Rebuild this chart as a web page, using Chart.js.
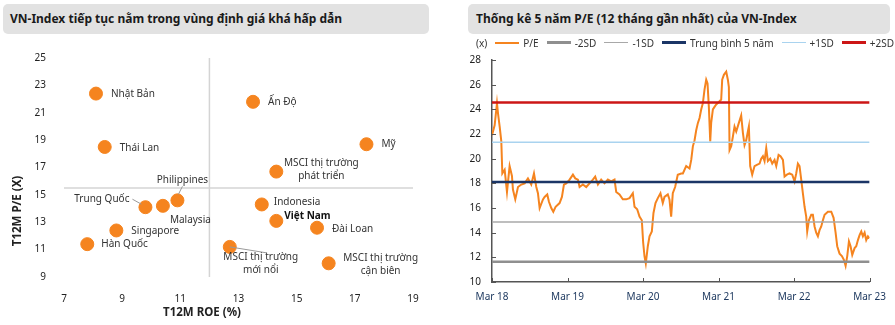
<!DOCTYPE html>
<html>
<head>
<meta charset="utf-8">
<script src="https://cdn.jsdelivr.net/npm/chart.js@4.4.1/dist/chart.umd.min.js"></script>
<style>
body { margin: 0; background: #fff; font-family: "Noto Sans", sans-serif; }
#wrap { position: relative; width: 895px; height: 325px; overflow: hidden; }
.title { position: absolute; top: 4px; height: 30px; line-height: 30px; background: #e2e2e2; border-radius: 5px;
         font-weight: bold; font-size: 12px; color: #1a1a1a; box-sizing: border-box; padding-left: 7px; white-space: nowrap; }
#t1 { left: 3px; width: 426px; }
#t2 { left: 468px; width: 422px; padding-left: 8px; }
canvas { position: absolute; top: 0; }
#c1 { left: 0; }
#c2 { left: 445px; }
#legend { position: absolute; left: 476px; top: 35px; height: 15px; display: flex; align-items: center;
          font-size: 10px; color: #333; white-space: nowrap; }
#legend .item { display: flex; align-items: center; margin-left: 8px; }
#legend .sw { width: 24px; margin-right: 4px; }
</style>
</head>
<body>
<div id="wrap">
  <div class="title" id="t1">VN-Index tiếp tục nằm trong vùng định giá khá hấp dẫn</div>
  <div class="title" id="t2">Thống kê 5 năm P/E (12 tháng gần nhất) của VN-Index</div>
  <canvas id="c1" width="440" height="325"></canvas>
  <canvas id="c2" width="450" height="325"></canvas>
  <div id="legend"><span>(x)</span></div>
</div>
<script>
// ---- số liệu biểu đồ trái (ROE vs P/E) ----
const countries = ['Nhật Bản', 'Thái Lan', 'Ấn Độ', 'Mỹ', 'MSCI thị trường phát triển', 'Trung Quốc', 'Malaysia',
                   'Philippines', 'Singapore', 'Hàn Quốc', 'Indonesia', 'Việt Nam', 'Đài Loan',
                   'MSCI thị trường mới nổi', 'MSCI thị trường cận biên'];
const roe = [8.1, 8.4, 13.5, 17.4, 14.3, 9.8, 10.4, 10.9, 8.8, 7.8, 13.8, 14.3, 15.7, 12.7, 16.1];
const pe  = [22.4, 18.5, 21.8, 18.7, 16.7, 14.1, 14.2, 14.6, 12.4, 11.4, 14.3, 13.1, 12.6, 11.2, 10.0];
const roeTicks = [7, 9, 11, 13, 15, 17, 19];
const peTicks = [9, 11, 13, 15, 17, 19, 21, 23, 25];
const roeSplit = 12;
const peSplit = 15.5;

// ---- số liệu biểu đồ phải (P/E 5 năm) ----
// tháng tính từ Mar 18
const peMonths = [0.0, 0.42, 0.79, 0.95, 1.22, 1.48, 1.64, 2.01, 2.38, 2.80, 3.17, 3.33, 3.70, 4.13, 4.66, 5.19, 5.71,
  6.24, 6.67, 7.04, 7.30, 7.57, 8.10, 8.36, 8.78, 9.05, 9.42, 9.74, 10.11, 10.74, 11.11, 11.43, 11.80, 12.33, 12.86,
  13.23, 13.65, 13.92, 14.44, 14.97, 15.50, 16.03, 16.40, 16.83, 17.35, 17.88, 18.41, 18.94, 19.47, 19.74, 20.26,
  20.79, 21.32, 21.85, 22.38, 22.65, 23.07, 23.44, 23.81, 24.02, 24.23, 24.44, 24.76, 25.03, 25.40, 25.66, 25.98,
  26.35, 26.77, 27.14, 27.41, 27.94, 28.20, 28.47, 28.73, 29.10, 29.52, 30.05, 30.33, 30.86, 31.39, 31.66, 31.92,
  32.19, 32.45, 32.72, 32.98, 33.25, 33.51, 33.77, 34.04, 34.25, 34.46, 34.68, 34.83, 35.10, 35.36, 35.63, 36.05,
  36.42, 36.58, 36.85, 37.22, 37.48, 37.64, 37.75, 38.01, 38.28, 38.54, 38.81, 39.23, 39.60, 39.87, 40.13, 40.40,
  40.66, 40.82, 41.03, 41.35, 41.72, 42.09, 42.52, 42.78, 43.05, 43.31, 43.58, 43.84, 44.21, 44.53, 44.90, 45.17,
  45.54, 45.85, 46.23, 46.49, 46.86, 47.28, 47.71, 48.08, 48.34, 48.61, 48.87, 49.14, 49.40, 49.67, 49.93, 50.09,
  50.36, 50.73, 50.99, 51.26, 51.52, 51.79, 52.05, 52.32, 52.58, 52.85, 53.38, 53.91, 54.28, 54.60, 54.86, 55.23,
  55.60, 55.92, 56.19, 56.45, 56.72, 56.98, 57.25, 57.62, 57.88, 58.15, 58.41, 58.68, 58.94, 59.21, 59.47, 59.74, 60.0];
const peValues = [21.9, 22.7, 24.5, 23.7, 22.6, 21.4, 18.8, 19.1, 17.3, 19.4, 18.6, 17.5, 16.7, 17.7, 17.9, 18.0, 18.4,
  17.9, 18.8, 17.7, 17.2, 16.0, 16.7, 16.9, 17.1, 16.5, 16.0, 15.7, 16.1, 16.4, 16.9, 17.9, 18.0, 18.3, 18.7,
  18.4, 18.3, 17.7, 17.9, 17.7, 18.0, 18.3, 18.55, 17.9, 18.3, 18.0, 18.3, 18.15, 18.3, 17.3, 17.1,
  16.7, 16.7, 16.8, 17.2, 16.1, 15.9, 15.3, 15.0, 13.2, 12.1, 11.5, 12.9, 13.7, 14.1, 15.6, 16.4,
  16.8, 17.2, 16.4, 16.9, 17.1, 16.7, 15.3, 17.2, 17.7, 18.7, 18.8, 18.8, 19.4, 19.2, 19.9, 21.0,
  21.5, 22.3, 22.9, 23.3, 24.0, 24.5, 25.6, 26.4, 26.1, 24.2, 21.4, 22.9, 24.0, 24.2, 24.4, 24.6,
  24.8, 26.4, 26.8, 27.05, 26.4, 25.8, 20.7, 21.0, 21.8, 22.6, 22.2, 22.9, 23.5, 22.1, 21.1, 21.5,
  22.2, 22.6, 19.4, 18.7, 19.4, 19.5, 19.6, 20.0, 20.2, 19.8, 20.85, 19.8, 20.0, 19.6, 19.9, 19.4,
  20.3, 20.2, 19.9, 18.55, 18.7, 18.8, 18.7, 18.15, 18.8, 19.6, 19.4, 18.3, 17.2, 16.1, 15.3, 14.1,
  15.0, 15.45, 15.45, 14.5, 14.0, 13.7, 14.2, 14.5, 15.0, 15.45, 15.7, 15.7, 15.2, 14.0, 12.9, 12.3,
  12.1, 11.8, 11.3, 12.1, 13.3, 12.9, 12.2, 12.75, 12.9, 13.4, 13.8, 14.1, 13.7, 14.0, 13.4, 13.7, 13.55];
const sdNames = ['-2SD', '-1SD', 'Trung bình 5 năm', '+1SD', '+2SD'];
const sdLevels = [11.64, 14.87, 18.1, 21.33, 24.56];
const yearTicks = [0, 12, 24, 36, 48, 60];
const yearLabels = ['Mar 18', 'Mar 19', 'Mar 20', 'Mar 21', 'Mar 22', 'Mar 23'];
const peTicks2 = [10, 12, 14, 16, 18, 20, 22, 24, 26, 28];

// kiểu dáng
const orange = '#f5841f';
const sdColors = ['#8f8f8f', '#a8a8a8', '#1b3566', '#a9d3ef', '#cc1616'];
const sdWidths = [2.5, 1.5, 2.5, 1.5, 2.5];

// vị trí nhãn (offset so với điểm, px)
const labelLayout = {
  'Nhật Bản': { dx: 15, dy: 1, lines: ['Nhật Bản'] },
  'Thái Lan': { dx: 15, dy: 1, lines: ['Thái Lan'] },
  'Ấn Độ': { dx: 15, dy: 0, lines: ['Ấn Độ'] },
  'Mỹ': { dx: 15, dy: 0, lines: ['Mỹ'] },
  'MSCI thị trường phát triển': { dx: 45, dy: -8, align: 'center', lines: ['MSCI thị trường', 'phát triển'] },
  'Trung Quốc': { dx: -16, dy: -8, align: 'right', lines: ['Trung Quốc'], leader: [-4, -3, -13, -8] },
  'Malaysia': { dx: 7, dy: 14, lines: ['Malaysia'] },
  'Philippines': { dx: 5, dy: -20, align: 'center', lines: ['Philippines'], leader: [1, -6, 5, -14] },
  'Singapore': { dx: 15, dy: 1, lines: ['Singapore'] },
  'Hàn Quốc': { dx: 14, dy: 0, lines: ['Hàn Quốc'] },
  'Indonesia': { dx: 12, dy: -2, lines: ['Indonesia'] },
  'Việt Nam': { dx: 8, dy: -5, bold: true, lines: ['Việt Nam'] },
  'Đài Loan': { dx: 15, dy: 1, lines: ['Đài Loan'] },
  'MSCI thị trường mới nổi': { dx: 31, dy: 10, align: 'center', lines: ['MSCI thị trường', 'mới nổi'], leader: [0, 0, 37, 6] },
  'MSCI thị trường cận biên': { dx: 52, dy: -5, align: 'center', lines: ['MSCI thị trường', 'cận biên'] }
};

Chart.defaults.font.family = '"Noto Sans", sans-serif';
Chart.defaults.font.size = 10;
Chart.defaults.color = '#222';
Chart.defaults.animation = false;

// [1] biểu đồ phân tán
// -------------------------------------------
const labelPlugin = {
  id: 'pointLabels',
  afterDatasetsDraw(chart) {
    const { ctx, scales: { x, y } } = chart;
    ctx.save();
    ctx.textBaseline = 'middle';
    countries.forEach((name, i) => {
      const L = labelLayout[name];
      const px = x.getPixelForValue(roe[i]);
      const py = y.getPixelForValue(pe[i]);
      if (L.leader) {
        ctx.strokeStyle = '#999';
        ctx.lineWidth = 1;
        ctx.beginPath();
        ctx.moveTo(px + L.leader[0], py + L.leader[1]);
        ctx.lineTo(px + L.leader[2], py + L.leader[3]);
        ctx.stroke();
      }
      ctx.font = (L.bold ? 'bold ' : '') + '10px "Noto Sans"';
      ctx.fillStyle = L.bold ? '#111' : '#333';
      ctx.textAlign = L.align || 'left';
      L.lines.forEach((t, k) => ctx.fillText(t, px + L.dx, py + L.dy + k * 13));
    });
    // tiêu đề trục
    ctx.fillStyle = '#222';
    ctx.font = 'bold 11.5px "Noto Sans"';
    ctx.textAlign = 'center';
    ctx.fillText('T12M ROE (%)', 202, 313);
    ctx.translate(18, 211);
    ctx.rotate(-Math.PI / 2);
    ctx.fillText('T12M P/E (X)', 0, 0);
    ctx.restore();
  }
};

new Chart(document.getElementById('c1'), {
  type: 'scatter',
  data: {
    datasets: [
      {
        data: countries.map((c, i) => ({ x: roe[i], y: pe[i] })),
        backgroundColor: orange,
        borderColor: orange,
        pointRadius: 6.5,
        order: 1
      },
      {
        type: 'line',
        data: [{ x: roeSplit, y: peTicks[peTicks.length - 1] }, { x: roeSplit, y: peTicks[0] }],
        borderColor: '#d4d4d4', borderWidth: 1.5, pointRadius: 0, order: 2
      },
      {
        type: 'line',
        data: [{ x: roeTicks[0], y: peSplit }, { x: roeTicks[roeTicks.length - 1], y: peSplit }],
        borderColor: '#d4d4d4', borderWidth: 1.5, pointRadius: 0, order: 2
      }
    ]
  },
  options: {
    responsive: false,
    devicePixelRatio: 1,
    layout: { padding: { top: 58, right: 27, left: 0, bottom: 0 } },
    plugins: { legend: { display: false }, tooltip: { enabled: false } },
    scales: {
      x: {
        type: 'linear', min: 7, max: 19,
        afterBuildTicks: s => { s.ticks = roeTicks.map(v => ({ value: v })); },
        afterFit: s => { s.height = 48; },
        grid: { display: false }, border: { display: false },
        ticks: { padding: 8, color: '#222', maxRotation: 0 }
      },
      y: {
        min: 9, max: 25,
        afterBuildTicks: s => { s.ticks = peTicks.map(v => ({ value: v })); },
        afterFit: s => { s.width = 64; },
        grid: { display: false }, border: { display: false },
        ticks: { padding: 10, color: '#222' }
      }
    }
  },
  plugins: [labelPlugin]
});

// [2] biểu đồ P/E 5 năm
// -------------------------------------------
const innerTicks = {
  id: 'innerTicks',
  afterDraw(chart) {
    const { ctx, chartArea: a, scales: { x, y } } = chart;
    ctx.save();
    ctx.strokeStyle = '#555';
    ctx.lineWidth = 1;
    ctx.beginPath();
    yearTicks.forEach(v => { const px = Math.round(x.getPixelForValue(v)) + 0.5; ctx.moveTo(px, a.bottom); ctx.lineTo(px, a.bottom - 4); });
    peTicks2.forEach(v => { const py = Math.round(y.getPixelForValue(v)) + 0.5; ctx.moveTo(a.left, py); ctx.lineTo(a.left + 4, py); });
    ctx.stroke();
    ctx.restore();
  }
};

const sdSets = sdNames.map((n, i) => ({
  label: n,
  data: [{ x: yearTicks[0], y: sdLevels[i] }, { x: yearTicks[yearTicks.length - 1], y: sdLevels[i] }],
  borderColor: sdColors[i], backgroundColor: sdColors[i], borderWidth: sdWidths[i], pointRadius: 0, order: 1
}));

new Chart(document.getElementById('c2'), {
  type: 'line',
  data: {
    datasets: [
      {
        label: 'P/E',
        data: peMonths.map((m, i) => ({ x: m, y: peValues[i] })),
        borderColor: orange, backgroundColor: orange, borderWidth: 2, pointRadius: 0, tension: 0, order: 2
      },
      ...sdSets
    ]
  },
  options: {
    responsive: false,
    devicePixelRatio: 1,
    layout: { padding: { top: 60, right: 24, left: 0, bottom: 0 } },
    plugins: { legend: { display: false }, tooltip: { enabled: false } },
    scales: {
      x: {
        type: 'linear', min: 0, max: 60,
        afterBuildTicks: s => { s.ticks = yearTicks.map(v => ({ value: v })); },
        afterFit: s => { s.height = 43; },
        grid: { display: true, drawOnChartArea: false, drawTicks: false },
        border: { display: true, color: '#555', width: 1.5 },
        ticks: { padding: 9, color: '#1f3a60', maxRotation: 0, callback: v => yearLabels[yearTicks.indexOf(v)] }
      },
      y: {
        min: 10, max: 28,
        afterBuildTicks: s => { s.ticks = peTicks2.map(v => ({ value: v })); },
        afterFit: s => { s.width = 47; },
        grid: { display: true, drawOnChartArea: false, drawTicks: false },
        border: { display: true, color: '#555', width: 1.5 },
        ticks: { padding: 11, color: '#222' }
      }
    }
  },
  plugins: [innerTicks]
});

// chú thích
const legend = document.getElementById('legend');
const legNames = ['P/E', ...sdNames];
const legColors = [orange, ...sdColors];
const legWidths = [2, ...sdWidths];
legNames.forEach((n, i) => {
  const item = document.createElement('span');
  item.className = 'item';
  const sw = document.createElement('span');
  sw.className = 'sw';
  sw.style.height = legWidths[i] + 'px';
  sw.style.background = legColors[i];
  item.appendChild(sw);
  item.appendChild(document.createTextNode(n));
  legend.appendChild(item);
});
</script>
</body>
</html>
